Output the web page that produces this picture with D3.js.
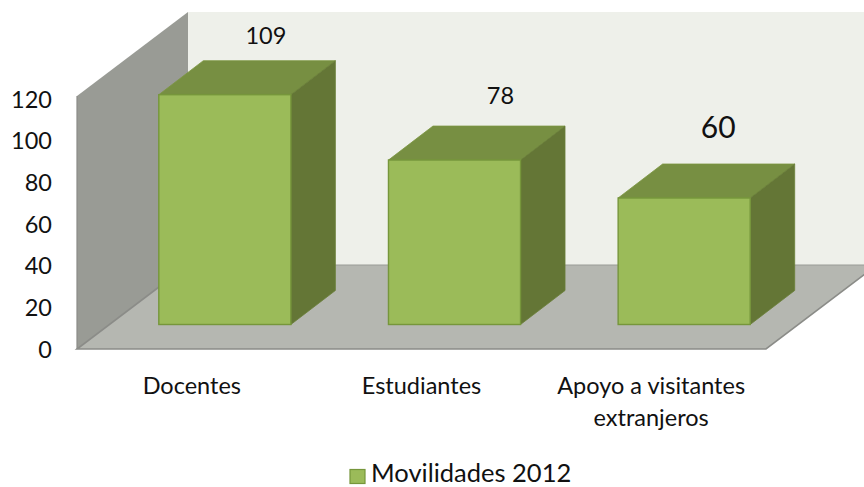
<!DOCTYPE html>
<html><head><meta charset="utf-8">
<script src="https://cdnjs.cloudflare.com/ajax/libs/d3/7.8.5/d3.min.js"></script>
<style>html,body{margin:0;padding:0;background:#fff}svg{display:block}text{font-family:Lato,"Open Sans",sans-serif;fill:#111}</style>
</head><body><svg id="c" width="864" height="487"></svg>
<script>
const categories = ["Docentes", "Estudiantes", "Apoyo a visitantes|extranjeros"];
const values = [109, 78, 60];
const yTicks = [0, 20, 40, 60, 80, 100, 120];
const seriesName = "Movilidades 2012";
const labelNudgeX = [41, 46, 34];
const labelGapY = [26, 31, 38];
const labelSize = [23.5, 23.5, 30];

const svg = d3.select("#c");
const x0 = 77, x1 = 766, yBase = 349, yTop = 96;
const wallDX = 111, wallDY = 84;
const barDX = 44.5, barDY = 34, barInsetY = 24.5, barShift = 33;

const x = d3.scaleBand().domain(categories).range([x0, x1]).paddingInner(0).paddingOuter(0);
const y = d3.scaleLinear().domain([0, 120]).range([yBase, yTop]);
const poly = pts => pts.map(p => p.join(",")).join(" ");

// walls and floor
svg.append("polygon").attr("points", poly([[x0+wallDX, yTop-wallDY],[864, yTop-wallDY],[864, yBase-wallDY],[x0+wallDX, yBase-wallDY]])).attr("fill", "#EEF0EA");
svg.append("polygon").attr("points", poly([[x0, yTop],[x0+wallDX, yTop-wallDY],[x0+wallDX, yBase-wallDY],[x0, yBase]])).attr("fill", "#999B95");
svg.append("polygon").attr("points", poly([[x0, yBase],[x1, yBase],[x1+wallDX, yBase-wallDY],[x0+wallDX, yBase-wallDY]]))
  .attr("fill", "#B5B7B1");
svg.append("path").attr("d", d3.line()([[x0+wallDX, yBase-wallDY],[x0, yBase],[x1, yBase],[x1+wallDX, yBase-wallDY]]))
  .attr("fill", "none").attr("stroke", "#8B8C88").attr("stroke-width", 1.6);
svg.append("path").attr("d", d3.line()([[x0+wallDX, yBase-wallDY],[864, yBase-wallDY]]))
  .attr("fill", "none").attr("stroke", "#9A9C97").attr("stroke-width", 1);
svg.append("path").attr("d", d3.line()([[x0, yTop],[x0, yBase]]))
  .attr("fill", "none").attr("stroke", "#8B8C88").attr("stroke-width", 1.2);

// bars
const barW = x.bandwidth() * 0.575;
const g = svg.selectAll("g.bar").data(values).join("g").attr("class", "bar");
const geom = (v, i) => {
  const l = x(categories[i]) + x.bandwidth()/2 + barShift - barW/2, r = l + barW;
  const b = y(0) - barInsetY, t = y(v) - barInsetY;
  return {l, r, b, t};
};
g.append("polygon").attr("points", (v,i) => { const a = geom(v,i);
  return poly([[a.l,a.t],[a.r,a.t],[a.r+barDX,a.t-barDY],[a.l+barDX,a.t-barDY]]); })
  .attr("fill", "#778F42").attr("stroke", "#7B9640").attr("stroke-width", 0.8);
g.append("polygon").attr("points", (v,i) => { const a = geom(v,i);
  return poly([[a.r,a.t],[a.r+barDX,a.t-barDY],[a.r+barDX,a.b-barDY],[a.r,a.b]]); })
  .attr("fill", "#647636").attr("stroke", "#6A7F38").attr("stroke-width", 0.8);
g.append("rect").attr("x", (v,i) => geom(v,i).l).attr("y", (v,i) => geom(v,i).t)
  .attr("width", barW).attr("height", (v,i) => geom(v,i).b - geom(v,i).t)
  .attr("fill", "#9BBB59").attr("stroke", "#76963B").attr("stroke-width", 1.4);

// value labels
g.append("text").text(v => v).attr("text-anchor", "middle").attr("dominant-baseline", "central")
  .attr("x", (v,i) => geom(v,i).l + barW/2 + labelNudgeX[i])
  .attr("y", (v,i) => geom(v,i).t - barDY - labelGapY[i])
  .attr("font-size", (v,i) => labelSize[i]);

// y axis
const yAxisScale = y.copy().range([yBase + 0.5, yTop + 3.5]);
const ax = svg.append("g").attr("transform", "translate(52,0)")
  .call(d3.axisLeft(yAxisScale).tickValues(yTicks).tickSize(0).tickPadding(0));
ax.select(".domain").remove();
ax.selectAll("text").attr("font-size", 23.5).style("font-family", 'Lato,"Open Sans",sans-serif').attr("fill", "#111");

// category labels
const cat = svg.selectAll("text.cat").data(categories).join("text").attr("class", "cat")
  .attr("text-anchor", "middle").attr("font-size", 23.5)
  .attr("y", 394);
cat.selectAll("tspan").data(d => d.split("|").map(s => ({s, d}))).join("tspan")
  .attr("x", d => x(d.d) + x.bandwidth()/2)
  .attr("dy", (d,i) => i ? 32 : 0)
  .text(d => d.s);

// legend
svg.append("rect").attr("x", 350).attr("y", 469.5).attr("width", 15).attr("height", 14)
  .attr("fill", "#9BBB59").attr("stroke", "#76963B").attr("stroke-width", 1.2);
svg.append("text").attr("x", 371).attr("y", 481.8).attr("font-size", 25.5).text(seriesName);
</script></body></html>
